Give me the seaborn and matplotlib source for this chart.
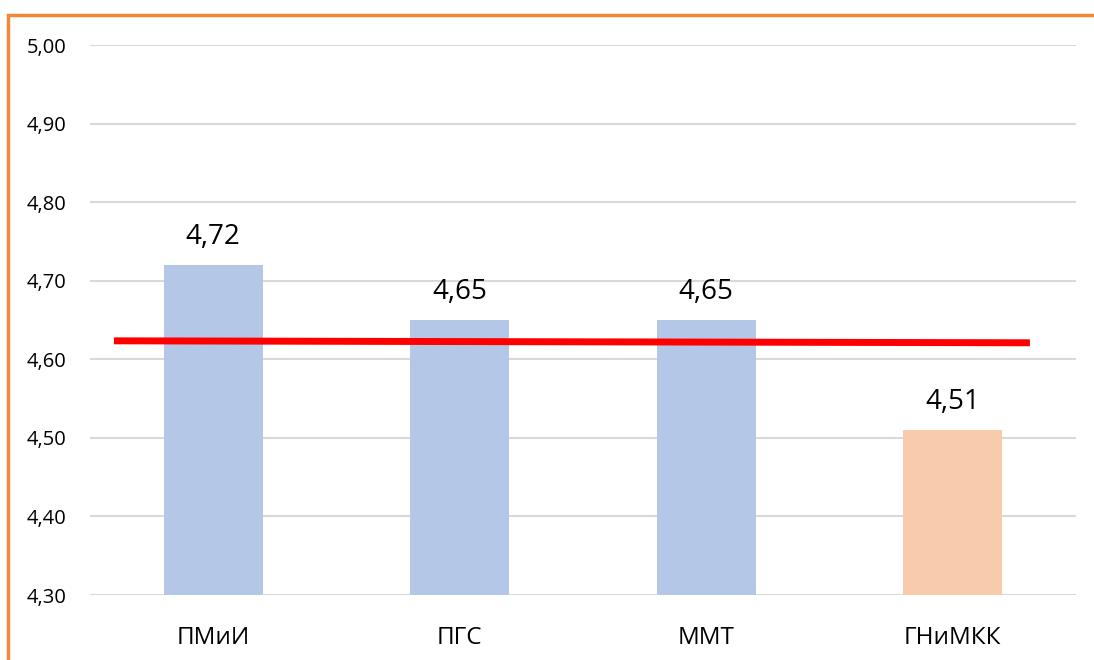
import matplotlib
matplotlib.use("Agg")
import matplotlib.pyplot as plt
import seaborn as sns
import pandas as pd
from matplotlib.patches import Rectangle

categories = ["ПМиИ", "ПГС", "ММТ", "ГНиМКК"]
values = [4.72, 4.65, 4.65, 4.51]
bar_colors = ["#B4C7E7", "#B4C7E7", "#B4C7E7", "#F8CBAD"]
avg_line_x = [-0.403, 3.313]
avg_line_y = [4.6235, 4.621]
y_ticks = [4.30, 4.40, 4.50, 4.60, 4.70, 4.80, 4.90, 5.00]

sns.set_theme(style="white")
plt.rcParams['font.family'] = ['Open Sans', 'DejaVu Sans']
plt.rcParams['text.color'] = 'black'
plt.rcParams['xtick.color'] = 'black'
plt.rcParams['ytick.color'] = 'black'

df = pd.DataFrame({"cat": categories, "val": values})

fig = plt.figure(figsize=(10.94, 6.6), dpi=100)
ax = fig.add_axes([90/1094, 1-595/660, (1076-90)/1094, (595-45)/660])

for y in y_ticks:
    ax.axhline(y, color="#D9D9D9", lw=1.5, zorder=0)

sns.barplot(data=df, x="cat", y="val", hue="cat", palette=bar_colors,
            width=0.40, ax=ax, legend=False, zorder=2, saturation=1, linewidth=0)

ax.set_ylim(4.30, 5.00)
ax.set_xlim(-0.5, 3.5)
ax.set_yticks(y_ticks)
ax.set_yticklabels([f"{v:.2f}".replace(".", ",") for v in y_ticks], fontsize=14.5)
ax.tick_params(axis="y", length=0, pad=17)
ax.tick_params(axis="x", length=0, pad=22, labelsize=17.5)
ax.set_xlabel("")
ax.set_ylabel("")
for s in ax.spines.values():
    s.set_visible(False)

for i, v in enumerate(values):
    ax.annotate(f"{v:.2f}".replace(".", ","), (i, v), xytext=(0, 10),
                textcoords="offset points", ha="center", va="bottom", fontsize=20)

ax.plot(avg_line_x, avg_line_y, color="#FF0000", lw=5, solid_capstyle="butt", zorder=3)

fig.patches.append(Rectangle((7.5/1094, -0.1), 1.2, 1-15.5/660+0.1, transform=fig.transFigure,
                             fill=False, edgecolor="#F4883A", lw=2.5, zorder=10))

fig.savefig("out.png", dpi=100, facecolor="white")
